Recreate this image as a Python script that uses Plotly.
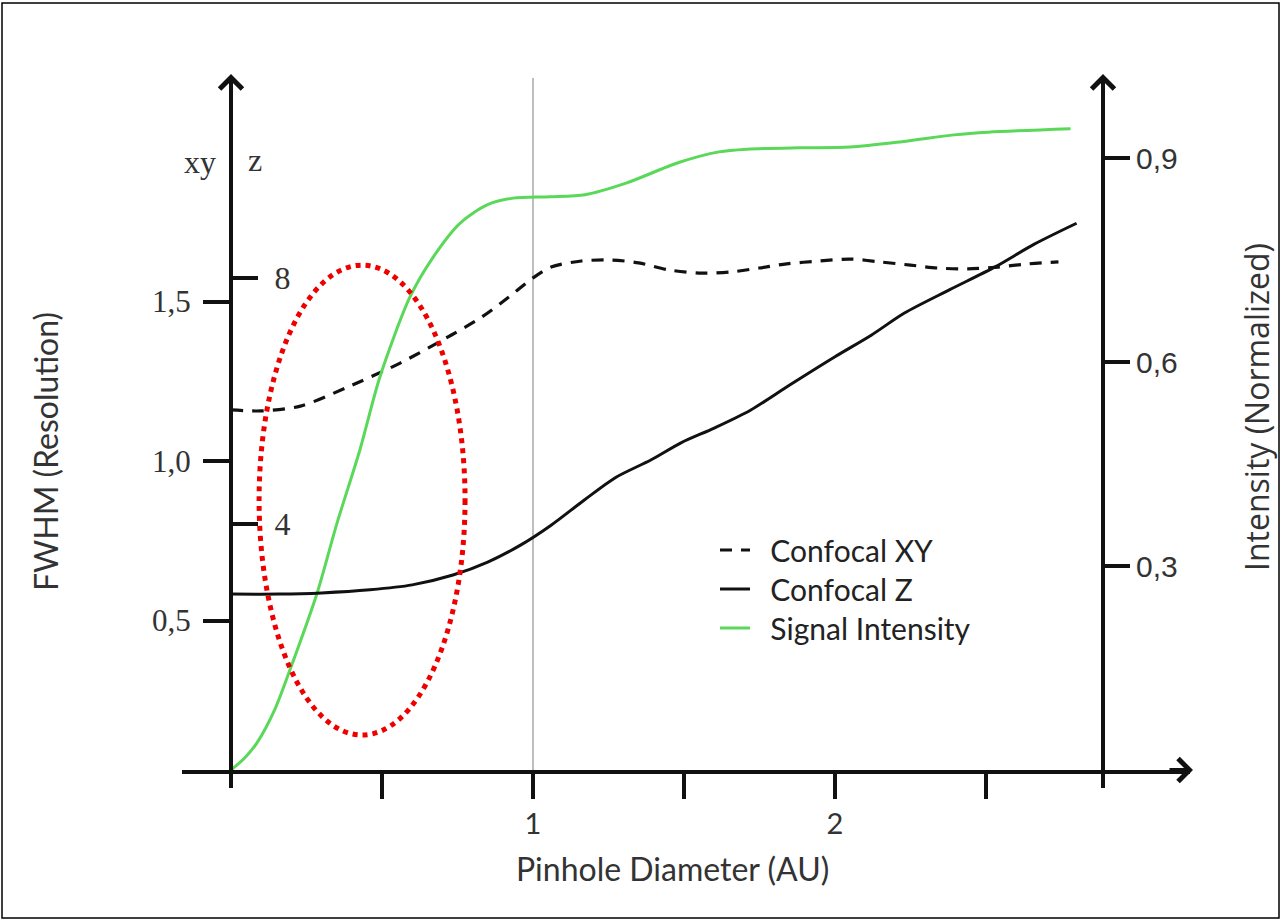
import plotly.graph_objects as go

# ---------------- data ----------------
xy_x = [0.0, 0.1, 0.23, 0.38, 0.56, 0.73, 0.83, 0.92, 1.0, 1.06, 1.16, 1.26, 1.35, 1.45,
        1.55, 1.65, 1.75, 1.84, 1.95, 2.05, 2.15, 2.25, 2.34, 2.44, 2.54, 2.64, 2.74]
xy_fwhm = [1.16, 1.157, 1.172, 1.229, 1.307, 1.395, 1.451, 1.514, 1.574, 1.608, 1.627, 1.630,
           1.621, 1.599, 1.589, 1.592, 1.605, 1.618, 1.627, 1.633, 1.624, 1.614, 1.605, 1.602,
           1.608, 1.618, 1.624]

z_x = [0.0, 0.16, 0.30, 0.46, 0.60, 0.735, 0.85, 0.96, 1.06, 1.17, 1.275, 1.39, 1.49, 1.60,
       1.72, 1.85, 2.0, 2.12, 2.23, 2.38, 2.53, 2.66, 2.80]
z_fwhm = [2.86, 2.86, 2.88, 2.93, 3.01, 3.17, 3.38, 3.66, 3.98, 4.39, 4.76, 5.04, 5.32, 5.56,
          5.85, 6.26, 6.72, 7.07, 7.43, 7.81, 8.18, 8.55, 8.89]

int_x = [0.0, 0.046, 0.086, 0.146, 0.195, 0.285, 0.351, 0.427, 0.493, 0.593, 0.669, 0.758,
         0.848, 0.934, 1.056, 1.172, 1.308, 1.48, 1.616, 1.709, 1.881, 2.05, 2.222, 2.394,
         2.507, 2.78]
intensity = [0.0, 0.018, 0.040, 0.090, 0.147, 0.260, 0.363, 0.471, 0.578, 0.696, 0.754, 0.804,
             0.831, 0.841, 0.843, 0.846, 0.863, 0.893, 0.909, 0.913, 0.915, 0.916, 0.924, 0.934,
             0.938, 0.943]

series_names = ["Confocal XY", "Confocal Z", "Signal Intensity"]

x_tickvals = [0.5, 1, 1.5, 2, 2.5]
x_ticktext = ["", "1", "", "2", ""]
xy_tickvals = [0.5, 1.0, 1.5]
xy_ticktext = ["0,5", "1,0", "1,5"]
z_tickvals = [4, 8]
z_ticktext = ["4", "8"]
int_tickvals = [0.3, 0.6, 0.9]
int_ticktext = ["0,3", "0,6", "0,9"]

# ---------------- layout geometry (pixels of 1281x921 page) ----------------
W, H = 1281, 921
def px(x):
    return x / W
def py(y):
    return 1 - y / H

X0, XPU = 231, 302          # pixel of x=0, pixels per unit
X_LEFT, X_RIGHT = 182, 1190
Y_BOT, Y_TOP = 770, 78
XY0, XYPU = 780, 319        # pixel of xy=0, pixels per unit
ZPU = 61.5
IPU = 680
RIGHT_AXIS_PX = 1103

x_range = [(X_LEFT - X0) / XPU, (X_RIGHT - X0) / XPU]
xy_range = [(XY0 - Y_BOT) / XYPU, (XY0 - Y_TOP) / XYPU]
z_range = [0, (Y_BOT - Y_TOP) / ZPU]
int_range = [0, (Y_BOT - Y_TOP) / IPU]
x_right_axis = (RIGHT_AXIS_PX - X0) / XPU

INK = "#111111"
TXT = "#333333"
GREEN = "#5ad85a"
PAD = "\u00a0\u00a0"

fig = go.Figure()
fig.add_trace(go.Scatter(
    x=xy_x, y=xy_fwhm, mode="lines", name=PAD + series_names[0], legend="legend",
    line=dict(color=INK, width=3.2, dash="12px,9px", shape="spline", smoothing=0.8),
    yaxis="y"))
fig.add_trace(go.Scatter(
    x=z_x, y=z_fwhm, mode="lines", name=PAD + series_names[1], legend="legend2",
    line=dict(color=INK, width=3, shape="spline", smoothing=0.8),
    yaxis="y3"))
fig.add_trace(go.Scatter(
    x=int_x, y=intensity, mode="lines", name=PAD + series_names[2], legend="legend3",
    line=dict(color=GREEN, width=3, shape="spline", smoothing=0.8),
    yaxis="y2"))

axis_common = dict(showgrid=False, zeroline=False, fixedrange=True)
legend_common = dict(x=px(715), xanchor="left", yanchor="middle",
                     bgcolor="rgba(0,0,0,0)", borderwidth=0, itemwidth=30,
                     font=dict(family="Lato", size=30, color="#222222"))

fig.update_layout(
    width=W, height=H,
    margin=dict(l=0, r=0, t=0, b=0),
    paper_bgcolor="white", plot_bgcolor="white",
    font=dict(family="Lato", color=TXT),
    xaxis=dict(domain=[px(X_LEFT), px(X_RIGHT)], range=x_range, anchor="y",
               showline=True, linewidth=4, linecolor=INK,
               ticks="outside", ticklen=25, tickwidth=3.5, tickcolor=INK,
               tickvals=x_tickvals, ticktext=x_ticktext,
               tickfont=dict(family="Lato", size=29, color=TXT), **axis_common),
    yaxis=dict(domain=[py(Y_BOT), py(Y_TOP)], range=xy_range, anchor="free",
               position=px(X0), side="left",
               showline=True, linewidth=4, linecolor=INK,
               ticks="outside", ticklen=26, tickwidth=3.5, tickcolor=INK,
               tickvals=xy_tickvals, ticktext=xy_ticktext, ticklabelstandoff=6,
               tickfont=dict(family="Liberation Serif", size=31, color=TXT), **axis_common),
    yaxis3=dict(domain=[py(Y_BOT), py(Y_TOP)], range=z_range, anchor="free",
                overlaying="y", position=px(X0), side="right", showline=False,
                ticks="outside", ticklen=26, tickwidth=3.5, tickcolor=INK,
                tickvals=z_tickvals, ticktext=z_ticktext, ticklabelstandoff=10,
                tickfont=dict(family="Liberation Serif", size=32, color=TXT), **axis_common),
    yaxis2=dict(domain=[py(Y_BOT), py(Y_TOP)], range=int_range, anchor="free",
                overlaying="y", position=px(RIGHT_AXIS_PX), side="right",
                showline=True, linewidth=4, linecolor=INK,
                ticks="outside", ticklen=25, tickwidth=3.5, tickcolor=INK,
                tickvals=int_tickvals, ticktext=int_ticktext,
                tickfont=dict(family="Liberation Sans", size=30, color=TXT), **axis_common),
    showlegend=True,
    legend=dict(y=py(550), **legend_common),
    legend2=dict(y=py(589), **legend_common),
    legend3=dict(y=py(628), **legend_common),
)

shapes = [
    # vertical reference line at 1 AU
    dict(type="line", xref="x", yref="paper", x0=1, x1=1, y0=py(Y_BOT), y1=py(Y_TOP),
         line=dict(color="#a8a8a8", width=1.5), layer="below"),
    # axis extensions below the x axis
    dict(type="line", xref="x", yref="paper", x0=0, x1=0, y0=py(Y_BOT), y1=py(788),
         line=dict(color=INK, width=4)),
    dict(type="line", xref="x", yref="paper", x0=x_right_axis, x1=x_right_axis,
         y0=py(Y_BOT), y1=py(788), line=dict(color=INK, width=4)),
    # highlighted region (red dotted ellipse)
    dict(type="circle", xref="x", yref="y", x0=0.093, x1=0.775, y0=0.141, y1=1.614,
         line=dict(color="#ee0000", width=5, dash="dot")),
    # outer frame
    dict(type="rect", xref="paper", yref="paper", x0=px(2), x1=px(1279), y0=py(918), y1=py(3),
         line=dict(color="#000000", width=1.5)),
]
fig.update_layout(shapes=shapes)

ann = [
    # arrow heads
    dict(xref="paper", yref="paper", x=px(X0), y=py(74), ax=0, ay=25, text="",
         showarrow=True, arrowhead=4, arrowsize=1.1, arrowwidth=4, arrowcolor=INK),
    dict(xref="paper", yref="paper", x=px(RIGHT_AXIS_PX), y=py(74), ax=0, ay=25, text="",
         showarrow=True, arrowhead=4, arrowsize=1.1, arrowwidth=4, arrowcolor=INK),
    dict(xref="paper", yref="paper", x=px(1193), y=py(Y_BOT), ax=-25, ay=0, text="",
         showarrow=True, arrowhead=4, arrowsize=1.1, arrowwidth=4, arrowcolor=INK),
    # axis unit labels
    dict(xref="paper", yref="paper", x=px(200), y=py(162), text="xy", showarrow=False,
         xanchor="center", yanchor="middle",
         font=dict(family="Liberation Serif", size=32, color=TXT)),
    dict(xref="paper", yref="paper", x=px(255), y=py(160), text="z", showarrow=False,
         xanchor="center", yanchor="middle",
         font=dict(family="Liberation Serif", size=32, color=TXT)),
    # axis titles
    dict(xref="paper", yref="paper", x=px(672), y=py(868), text="Pinhole Diameter (AU)",
         showarrow=False, xanchor="center", yanchor="middle",
         font=dict(family="Lato", size=32, color=TXT)),
    dict(xref="paper", yref="paper", x=px(45), y=py(452), text="FWHM (Resolution)",
         showarrow=False, textangle=-90, xanchor="center", yanchor="middle",
         font=dict(family="Lato", size=32, color=TXT)),
    dict(xref="paper", yref="paper", x=px(1256), y=py(407), text="Intensity (Normalized)",
         showarrow=False, textangle=-90, xanchor="center", yanchor="middle",
         font=dict(family="Open Sans", size=32, color=TXT)),
]
fig.update_layout(annotations=ann)

fig.write_html("out.html",
               config={"displayModeBar": False},
               post_script="document.body.style.margin='0px';"
                           "document.body.style.overflow='hidden';")
